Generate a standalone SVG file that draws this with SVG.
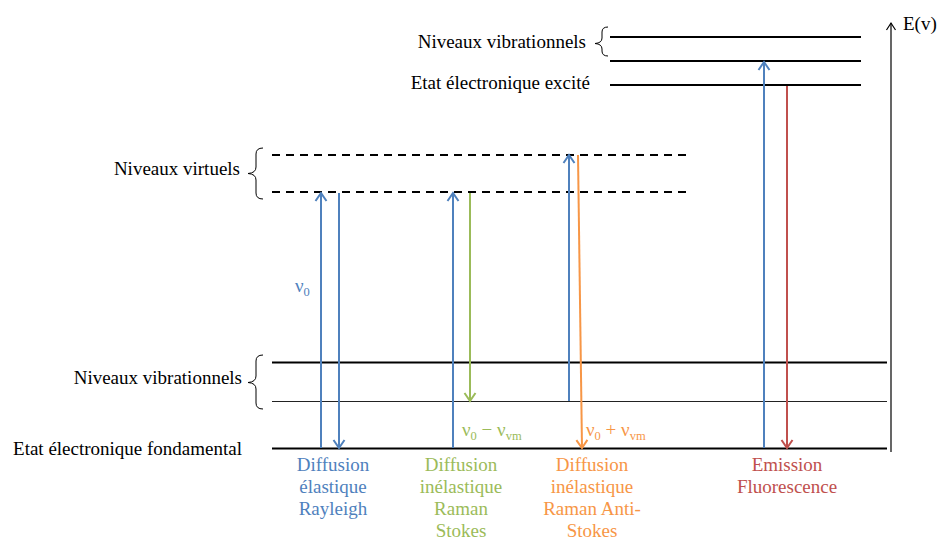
<svg xmlns="http://www.w3.org/2000/svg" width="938" height="541" viewBox="0 0 938 541">
<style>
text{font-family:"Liberation Serif","Times New Roman",serif;font-size:19px;fill:#000}
.lvl{stroke:#000;stroke-width:2;fill:none}
.thin{stroke:#222;stroke-width:1.2;fill:none}
.dash{stroke:#000;stroke-width:2;stroke-dasharray:8,6;fill:none}
.brace{stroke:#000;stroke-width:1;fill:none}
.b{stroke:#4F81BD;stroke-width:2;fill:none}
.g{stroke:#9BBB59;stroke-width:2;fill:none}
.o{stroke:#F79646;stroke-width:2;fill:none}
.r{stroke:#C0504D;stroke-width:2;fill:none}
.tb{fill:#4F81BD}.tg{fill:#9BBB59}.to{fill:#F79646}.tr{fill:#C0504D}
.mid{text-anchor:middle}.end{text-anchor:end}
.sub{font-size:12.5px}
</style>
<defs>
<marker id="ab" markerUnits="userSpaceOnUse" markerWidth="14" markerHeight="14" viewBox="0 0 14 14" refX="11" refY="7" orient="auto"><path d="M3,1.5 L11,7 L3,12.5" fill="none" stroke="#4F81BD" stroke-width="2"/></marker>
<marker id="ag" markerUnits="userSpaceOnUse" markerWidth="14" markerHeight="14" viewBox="0 0 14 14" refX="11" refY="7" orient="auto"><path d="M3,1.5 L11,7 L3,12.5" fill="none" stroke="#9BBB59" stroke-width="2"/></marker>
<marker id="ao" markerUnits="userSpaceOnUse" markerWidth="14" markerHeight="14" viewBox="0 0 14 14" refX="11" refY="7" orient="auto"><path d="M3,1.5 L11,7 L3,12.5" fill="none" stroke="#F79646" stroke-width="2"/></marker>
<marker id="ar" markerUnits="userSpaceOnUse" markerWidth="14" markerHeight="14" viewBox="0 0 14 14" refX="11" refY="7" orient="auto"><path d="M3,1.5 L11,7 L3,12.5" fill="none" stroke="#C0504D" stroke-width="2"/></marker>
<marker id="ak" markerUnits="userSpaceOnUse" markerWidth="12" markerHeight="12" viewBox="0 0 12 12" refX="10" refY="6" orient="auto"><path d="M3,1.5 L10,6 L3,10.5" fill="none" stroke="#000" stroke-width="1.2"/></marker>
</defs>

<g id="levels">
<line class="lvl" x1="610" y1="37" x2="861" y2="37"/>
<line class="lvl" x1="610" y1="61" x2="861" y2="61"/>
<line class="lvl" x1="610" y1="85" x2="861" y2="85"/>
<line class="dash" x1="272" y1="155" x2="686" y2="155"/>
<line class="dash" x1="272" y1="192" x2="686" y2="192"/>
<line class="lvl" x1="272" y1="362.5" x2="887" y2="362.5"/>
<line class="thin" x1="272" y1="401.5" x2="887" y2="401.5"/>
<line class="lvl" x1="272" y1="448.5" x2="887" y2="448.5"/>
</g>

<g id="braces">
<path class="brace" d="M608,27 Q602,27 602,32 L602,38 Q602,43 595,43.5 Q602,44 602,49 L602,51 Q602,56 608,56"/>
<path class="brace" d="M263,148 Q256,148 256,154 L256,167 Q256,173 248,173.5 Q256,174 256,180 L256,193 Q256,199 263,199"/>
<path class="brace" d="M263,355 Q256,355 256,361 L256,376 Q256,382 248,382.5 Q256,383 256,389 L256,403 Q256,409 263,409"/>
</g>

<g id="labels">
<text class="end" x="586" y="48">Niveaux vibrationnels</text>
<text class="end" x="590" y="89">Etat électronique excité</text>
<text class="end" x="240" y="175">Niveaux virtuels</text>
<text class="end" x="242" y="384">Niveaux vibrationnels</text>
<text class="end" x="242" y="455">Etat électronique fondamental</text>
<text x="903" y="30">E(v)</text>
</g>

<g id="connectors">
<line class="b" x1="321" y1="448" x2="321" y2="193" marker-end="url(#ab)"/>
<line class="b" x1="339" y1="193" x2="339" y2="448" marker-end="url(#ab)"/>
<line class="b" x1="453" y1="448" x2="453" y2="193" marker-end="url(#ab)"/>
<line class="g" x1="470" y1="193" x2="470" y2="401" marker-end="url(#ag)"/>
<line class="b" x1="569" y1="401" x2="569" y2="155" marker-end="url(#ab)"/>
<line class="o" x1="578" y1="155" x2="582" y2="448" marker-end="url(#ao)"/>
<line class="b" x1="764" y1="448" x2="764" y2="62" marker-end="url(#ab)"/>
<line class="r" x1="787" y1="86" x2="787" y2="448" marker-end="url(#ar)"/>
<line stroke="#000" stroke-width="1.2" x1="891" y1="452" x2="891" y2="23" marker-end="url(#ak)"/>
</g>

<g id="transition-labels">
<text class="tb" x="295" y="292">ν<tspan class="sub" dy="4">0</tspan></text>
<text class="tg" x="462" y="436">ν<tspan class="sub" dy="4">0</tspan><tspan dy="-4"> − ν</tspan><tspan class="sub" dy="4">vm</tspan></text>
<text class="to" x="586" y="436">ν<tspan class="sub" dy="4">0</tspan><tspan dy="-4"> + ν</tspan><tspan class="sub" dy="4">vm</tspan></text>
</g>

<g id="rayleigh">
<text class="tb mid" x="333" y="471">Diffusion</text>
<text class="tb mid" x="333" y="493">élastique</text>
<text class="tb mid" x="333" y="515">Rayleigh</text>
</g>
<g id="stokes">
<text class="tg mid" x="461" y="471">Diffusion</text>
<text class="tg mid" x="461" y="493">inélastique</text>
<text class="tg mid" x="461" y="515">Raman</text>
<text class="tg mid" x="461" y="537">Stokes</text>
</g>
<g id="antistokes">
<text class="to mid" x="592" y="471">Diffusion</text>
<text class="to mid" x="592" y="493">inélastique</text>
<text class="to mid" x="592" y="515">Raman Anti-</text>
<text class="to mid" x="592" y="537">Stokes</text>
</g>
<g id="fluorescence">
<text class="tr mid" x="787" y="471">Emission</text>
<text class="tr mid" x="787" y="493">Fluorescence</text>
</g>
</svg>
